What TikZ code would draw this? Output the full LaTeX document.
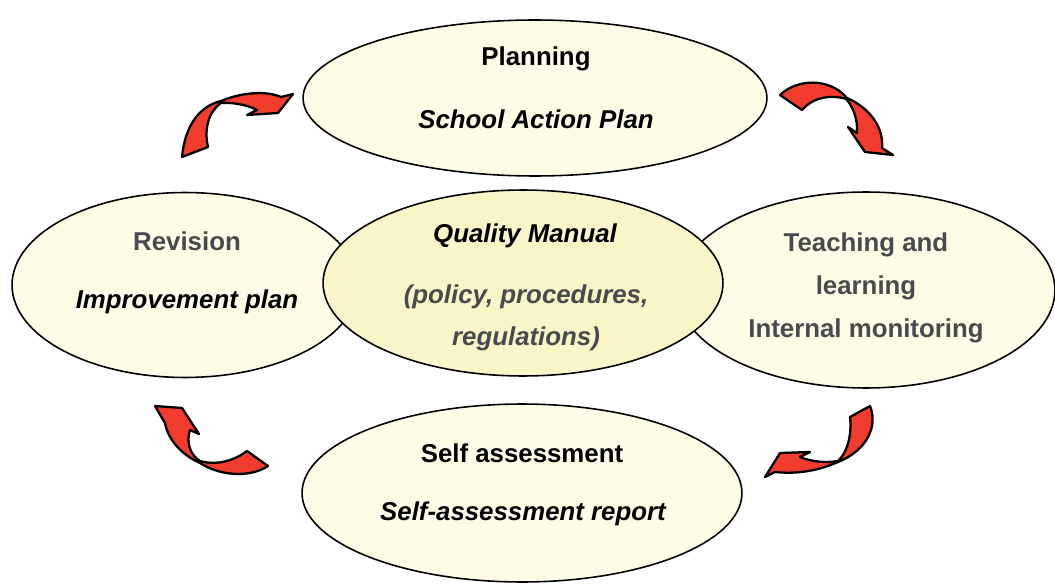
\documentclass[tikz,border=0pt]{standalone}
\usepackage{fontspec}
\setmainfont{Liberation Sans}
\usetikzlibrary{shapes.geometric}
\definecolor{paleyellow}{RGB}{254,252,230}
\definecolor{coreyellow}{RGB}{249,245,200}
\definecolor{arrowred}{RGB}{242,60,45}
\definecolor{labelgray}{RGB}{72,74,78}
\tikzstyle{stage} = [draw, ellipse, line width=0.9pt, fill=paleyellow, inner sep=0pt]
\tikzstyle{title} = [font=\fontsize{14.7}{17}\selectfont\bfseries]
\tikzstyle{subtitle} = [font=\fontsize{14.7}{17}\selectfont\bfseries\itshape]
\tikzstyle{stack} = [align=center, font=\fontsize{14.7}{24.5}\selectfont\bfseries]
\tikzstyle{turnarrow} = [draw, fill=arrowred, line width=1.3pt, line join=round]

\begin{document}
\begin{tikzpicture}[x=0.02cm, y=-0.02cm]
		\useasboundingbox (0,0) rectangle (1055,584);

		% outer stages
		\node[stage, minimum width=9.28cm, minimum height=3.12cm] (plan)   at (535,98)  {};
		\node[stage, minimum width=6.92cm, minimum height=3.7cm]  (revise) at (185,285) {};
		\node[stage, minimum width=7.56cm, minimum height=3.92cm] (teach)  at (866,290) {};
		\node[stage, minimum width=8.8cm,  minimum height=3.56cm] (assess) at (522,493) {};
		% core
		\node[stage, fill=coreyellow, minimum width=8cm, minimum height=3.72cm] (manual) at (523,283) {};

		\node[title]    (plantitle) at (536,59)  {Planning};
		\node[subtitle] (plantext)  at (536,119) {School Action Plan};
		\node[title, text=labelgray] (revtitle) at (187,241) {Revision};
		\node[subtitle] (revtext)   at (187,302) {Improvement plan};
		\node[subtitle] (mantitle)  at (525,236) {Quality Manual};
		\node[stack, text=labelgray, font=\fontsize{14.7}{24}\selectfont\bfseries\itshape] (mantext) at (526,318) {(policy, procedures,\\regulations)};
		\node[stack, text=labelgray] (teachtext) at (866,288) {Teaching and\\learning\\Internal monitoring};
		\node[title]    (asstitle)  at (522,453) {Self assessment};
		\node[subtitle] (asstext)   at (523,514) {Self-assessment report};

		% curved arrows
		\draw[turnarrow] (182,157) .. controls (185,125) and (200,106) .. (221,101) .. controls (240,93) and (265,90) .. (281,97) -- (293,94) -- (278,113) -- (247,115) -- (257,110) .. controls (250,106) and (235,102) .. (221,103) .. controls (208,112) and (204,130) .. (208,147) -- cycle;
		\draw[turnarrow] (780,95) .. controls (798,78) and (830,78) .. (847,98) .. controls (870,108) and (884,128) .. (882,148) -- (893,155) -- (865,152) -- (848,127) -- (857,133) .. controls (858,120) and (853,106) .. (846,99) .. controls (830,94) and (812,98) .. (802,110) -- cycle;
		\draw[turnarrow] (155,406) -- (182,408) -- (199,434) -- (190,430) .. controls (186,442) and (190,455) .. (200,461) .. controls (218,466) and (235,460) .. (247,451) -- (268,466) .. controls (250,478) and (220,476) .. (200,463) .. controls (182,455) and (168,440) .. (165,423) -- cycle;
		\draw[turnarrow] (870,406) .. controls (878,425) and (868,450) .. (838,462) .. controls (815,472) and (795,474) .. (775,472) -- (765,477) -- (780,453) -- (810,452) -- (800,457) .. controls (812,462) and (826,463) .. (838,461) .. controls (848,452) and (852,433) .. (850,417) -- cycle;
	\end{tikzpicture}
\end{document}
